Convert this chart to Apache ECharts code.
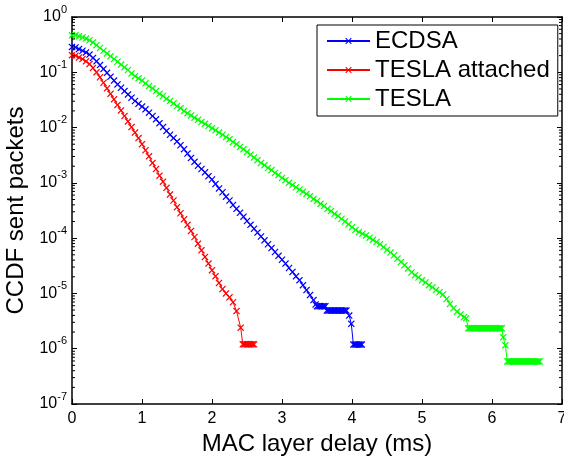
<!DOCTYPE html>
<html>
<head>
<meta charset="utf-8">
<script src="https://cdn.jsdelivr.net/npm/echarts@6/dist/echarts.min.js"></script>
<style>
  html, body { margin: 0; padding: 0; background: #fff; }
  #chart { width: 564px; height: 456px; }
</style>
</head>
<body>
<div id="chart"></div>
<script>
// MAC layer delay (ms) and complementary CDF of sent packets, per scheme.
const ecdsaDelay = [
  0, 0.05, 0.1, 0.15, 0.2, 0.25, 0.3, 0.35, 0.4, 0.45,
  0.5, 0.55, 0.6, 0.65, 0.7, 0.75, 0.8, 0.85, 0.9, 0.95,
  1, 1.05, 1.1, 1.15, 1.2, 1.25, 1.3, 1.35, 1.4, 1.45,
  1.5, 1.55, 1.6, 1.65, 1.7, 1.75, 1.8, 1.85, 1.9, 1.95,
  2, 2.05, 2.1, 2.15, 2.2, 2.25, 2.3, 2.35, 2.4, 2.45,
  2.5, 2.55, 2.6, 2.65, 2.7, 2.75, 2.8, 2.85, 2.9, 2.95,
  3, 3.05, 3.1, 3.15, 3.2, 3.25, 3.3, 3.35, 3.4, 3.45,
  3.48, 3.5, 3.52, 3.54, 3.56, 3.58, 3.6, 3.62,
  3.64, 3.66, 3.68, 3.7, 3.72, 3.74, 3.76, 3.78, 3.8, 3.82, 3.84, 3.86, 3.88, 3.9, 3.92,
  3.96, 3.99,
  4.02, 4.04, 4.06, 4.08, 4.1, 4.12, 4.14
];
const ecdsaCcdf = [
  2.88e-1, 2.82e-1, 2.63e-1, 2.45e-1, 2.29e-1, 2.09e-1, 1.82e-1, 1.58e-1, 1.35e-1, 1.15e-1,
  9.77e-2, 8.32e-2, 7.08e-2, 6.03e-2, 5.25e-2, 4.57e-2, 3.98e-2, 3.47e-2, 3.02e-2, 2.69e-2,
  2.40e-2, 2.14e-2, 1.86e-2, 1.62e-2, 1.41e-2, 1.20e-2, 1.02e-2, 8.71e-3, 7.41e-3, 6.46e-3,
  5.62e-3, 4.79e-3, 4.07e-3, 3.39e-3, 2.82e-3, 2.40e-3, 2.04e-3, 1.78e-3, 1.55e-3, 1.32e-3,
  1.15e-3, 9.55e-4, 7.94e-4, 6.76e-4, 5.62e-4, 4.79e-4, 3.98e-4, 3.39e-4, 2.88e-4, 2.45e-4,
  2.04e-4, 1.74e-4, 1.48e-4, 1.26e-4, 1.07e-4, 9.12e-5, 7.76e-5, 6.61e-5, 5.62e-5, 4.79e-5,
  4.07e-5, 3.47e-5, 2.88e-5, 2.45e-5, 2.04e-5, 1.74e-5, 1.41e-5, 1.15e-5, 9.33e-6, 7.59e-6,
  6.31e-6, 5.89e-6, 5.89e-6, 5.89e-6, 5.89e-6, 5.89e-6, 5.89e-6, 5.89e-6,
  4.90e-6, 4.90e-6, 4.90e-6, 4.90e-6, 4.90e-6, 4.90e-6, 4.90e-6, 4.90e-6, 4.90e-6, 4.90e-6, 4.90e-6, 4.90e-6, 4.90e-6, 4.90e-6, 4.90e-6,
  3.98e-6, 2.82e-6,
  1.19e-6, 1.19e-6, 1.19e-6, 1.19e-6, 1.19e-6, 1.19e-6, 1.19e-6
];

const attachedDelay = [
  0, 0.05, 0.1, 0.15, 0.2, 0.25, 0.3, 0.35, 0.4, 0.45,
  0.5, 0.55, 0.6, 0.65, 0.7, 0.75, 0.8, 0.85, 0.9, 0.95,
  1, 1.05, 1.1, 1.15, 1.2, 1.25, 1.3, 1.35, 1.4, 1.45,
  1.5, 1.55, 1.6, 1.65, 1.7, 1.75, 1.8, 1.85, 1.9, 1.95,
  2, 2.05, 2.1, 2.15, 2.2, 2.25, 2.3,
  2.35, 2.41,
  2.44, 2.46, 2.48, 2.5, 2.52, 2.54, 2.56, 2.58, 2.6
];
const attachedCcdf = [
  2.04e-1, 2.00e-1, 1.86e-1, 1.74e-1, 1.58e-1, 1.41e-1, 1.20e-1, 1.00e-1, 8.13e-2, 6.46e-2,
  5.13e-2, 4.07e-2, 3.24e-2, 2.57e-2, 2.04e-2, 1.62e-2, 1.29e-2, 1.02e-2, 8.13e-3, 6.46e-3,
  5.01e-3, 3.89e-3, 3.02e-3, 2.29e-3, 1.78e-3, 1.35e-3, 1.05e-3, 8.13e-4, 6.17e-4, 4.79e-4,
  3.63e-4, 2.82e-4, 2.19e-4, 1.74e-4, 1.35e-4, 1.05e-4, 7.94e-5, 6.03e-5, 4.57e-5, 3.47e-5,
  2.63e-5, 2.04e-5, 1.55e-5, 1.20e-5, 1.00e-5, 8.51e-6, 6.92e-6,
  4.79e-6, 2.40e-6,
  1.20e-6, 1.20e-6, 1.20e-6, 1.20e-6, 1.20e-6, 1.20e-6, 1.20e-6, 1.20e-6, 1.20e-6
];

const teslaDelay = [
  0, 0.05, 0.1, 0.15, 0.2, 0.25, 0.3, 0.35, 0.4, 0.45,
  0.5, 0.55, 0.6, 0.65, 0.7, 0.75, 0.8, 0.85, 0.9, 0.95,
  1, 1.05, 1.1, 1.15, 1.2, 1.25, 1.3, 1.35, 1.4, 1.45,
  1.5, 1.55, 1.6, 1.65, 1.7, 1.75, 1.8, 1.85, 1.9, 1.95,
  2, 2.05, 2.1, 2.15, 2.2, 2.25, 2.3, 2.35, 2.4, 2.45,
  2.5, 2.55, 2.6, 2.65, 2.7, 2.75, 2.8, 2.85, 2.9, 2.95,
  3, 3.05, 3.1, 3.15, 3.2, 3.25, 3.3, 3.35, 3.4, 3.45,
  3.5, 3.55, 3.6, 3.65, 3.7, 3.75, 3.8, 3.85, 3.9, 3.95,
  4, 4.05, 4.1, 4.15, 4.2, 4.25, 4.3, 4.35, 4.4, 4.45,
  4.5, 4.55, 4.6, 4.65, 4.7, 4.75, 4.8, 4.85, 4.9, 4.95,
  5, 5.05, 5.1, 5.15, 5.2, 5.25, 5.3, 5.35, 5.4, 5.45,
  5.5, 5.55, 5.6,
  5.63,
  5.66, 5.68, 5.7, 5.72, 5.74, 5.76, 5.78, 5.8, 5.82, 5.84, 5.86, 5.88, 5.9,
  5.92, 5.94, 5.96, 5.98, 6, 6.02, 6.04, 6.06, 6.08, 6.1, 6.12, 6.14,
  6.16, 6.19,
  6.22, 6.24, 6.26, 6.28, 6.3, 6.32, 6.34, 6.36, 6.38, 6.4, 6.42, 6.44,
  6.46, 6.48, 6.5, 6.52, 6.54, 6.56, 6.58, 6.6, 6.62, 6.64, 6.66, 6.68
];
const teslaCcdf = [
  4.68e-1, 4.68e-1, 4.47e-1, 4.27e-1, 4.07e-1, 3.80e-1, 3.47e-1, 3.09e-1, 2.75e-1, 2.45e-1,
  2.19e-1, 1.95e-1, 1.74e-1, 1.55e-1, 1.38e-1, 1.23e-1, 1.10e-1, 9.55e-2, 8.51e-2, 7.76e-2,
  7.08e-2, 6.31e-2, 5.62e-2, 5.13e-2, 4.57e-2, 4.07e-2, 3.72e-2, 3.31e-2, 3.02e-2, 2.75e-2,
  2.45e-2, 2.24e-2, 2.00e-2, 1.82e-2, 1.66e-2, 1.51e-2, 1.38e-2, 1.26e-2, 1.17e-2, 1.07e-2,
  9.77e-3, 8.91e-3, 8.13e-3, 7.41e-3, 6.76e-3, 6.17e-3, 5.50e-3, 5.01e-3, 4.47e-3, 4.07e-3,
  3.63e-3, 3.24e-3, 2.88e-3, 2.57e-3, 2.29e-3, 2.09e-3, 1.86e-3, 1.70e-3, 1.51e-3, 1.38e-3,
  1.23e-3, 1.12e-3, 1.00e-3, 9.12e-4, 8.32e-4, 7.59e-4, 6.92e-4, 6.31e-4, 5.75e-4, 5.13e-4,
  4.68e-4, 4.17e-4, 3.80e-4, 3.39e-4, 3.09e-4, 2.75e-4, 2.51e-4, 2.24e-4, 2.00e-4, 1.78e-4,
  1.58e-4, 1.41e-4, 1.29e-4, 1.20e-4, 1.12e-4, 1.02e-4, 9.33e-5, 8.51e-5, 7.76e-5, 6.92e-5,
  6.17e-5, 5.50e-5, 4.90e-5, 4.27e-5, 3.72e-5, 3.24e-5, 2.82e-5, 2.40e-5, 2.14e-5, 1.95e-5,
  1.74e-5, 1.58e-5, 1.41e-5, 1.29e-5, 1.15e-5, 1.05e-5, 9.55e-6, 7.94e-6, 6.46e-6, 5.37e-6,
  4.68e-6, 4.17e-6, 3.72e-6,
  3.55e-6,
  2.34e-6, 2.34e-6, 2.34e-6, 2.34e-6, 2.34e-6, 2.34e-6, 2.34e-6, 2.34e-6, 2.34e-6, 2.34e-6, 2.34e-6, 2.34e-6, 2.34e-6,
  2.34e-6, 2.34e-6, 2.34e-6, 2.34e-6, 2.34e-6, 2.34e-6, 2.34e-6, 2.34e-6, 2.34e-6, 2.34e-6, 2.34e-6, 2.34e-6,
  1.62e-6, 1.15e-6,
  5.89e-7, 5.89e-7, 5.89e-7, 5.89e-7, 5.89e-7, 5.89e-7, 5.89e-7, 5.89e-7, 5.89e-7, 5.89e-7, 5.89e-7, 5.89e-7,
  5.89e-7, 5.89e-7, 5.89e-7, 5.89e-7, 5.89e-7, 5.89e-7, 5.89e-7, 5.89e-7, 5.89e-7, 5.89e-7, 5.89e-7, 5.89e-7
];

const seriesNames = ['ECDSA', 'TESLA attached', 'TESLA'];
const seriesColors = ['#0000ff', '#ff0000', '#00ff00'];

// axis ranges
const xMin = 0, xMax = 7;
const yMin = 1e-7, yMax = 1;

// minor log ticks: 2..9 within each decade
const minorDecades = [1e-7, 1e-6, 1e-5, 1e-4, 1e-3, 1e-2, 1e-1];
const minorSteps = [2, 3, 4, 5, 6, 7, 8, 9];
const minorTicks = [];
minorDecades.forEach(d => minorSteps.forEach(m => minorTicks.push(m * d)));

const FONT = '"Liberation Sans", Arial, Helvetica, sans-serif';
const crossMark = 'path://M0,1.2L1.2,0L5,3.8L8.8,0L10,1.2L6.2,5L10,8.8L8.8,10L5,6.2L1.2,10L0,8.8L3.8,5Z';

function pairs(xs, ys) { return xs.map((x, i) => [x, ys[i]]); }

function lineSeries(name, color, xs, ys) {
  return {
    name: name,
    type: 'line',
    xAxisIndex: 0,
    yAxisIndex: 0,
    data: pairs(xs, ys),
    symbol: crossMark,
    symbolSize: 7,
    showSymbol: true,
    showAllSymbol: true,
    lineStyle: { color: color, width: 1 },
    itemStyle: { color: color },
    emphasis: { disabled: true },
    z: 3
  };
}

function expLabel(v) {
  const e = Math.round(Math.log10(v));
  return '{b|10}{e|' + (e < 0 ? '-' + (-e) : e) + '}';
}

const chart = echarts.init(document.getElementById('chart'), null, { renderer: 'canvas' });

chart.setOption({
  animation: false,
  backgroundColor: '#ffffff',
  textStyle: { fontFamily: FONT },
  grid: { left: 72, right: 2, top: 17, bottom: 52, containLabel: false, outerBoundsMode: 'none' },
  legend: {
    data: seriesNames,
    orient: 'vertical',
    left: 317,
    top: 25,
    padding: [4, 8, 5, 9],
    itemGap: 5,
    itemWidth: 43,
    itemHeight: 8,
    borderColor: '#000',
    borderWidth: 1,
    backgroundColor: '#fff',
    selectedMode: false,
    textStyle: { fontFamily: FONT, fontSize: 24, color: '#000' }
  },
  xAxis: [
    {
      type: 'value', min: xMin, max: xMax, interval: 1,
      name: 'MAC layer delay (ms)', nameLocation: 'middle', nameGap: 22,
      nameTextStyle: { fontFamily: FONT, fontSize: 24, color: '#000' },
      axisLine: { show: true, onZero: false, lineStyle: { color: '#000', width: 1.5 } },
      axisTick: { show: true, inside: true, length: 5, lineStyle: { color: '#000', width: 1 } },
      axisLabel: { fontFamily: FONT, fontSize: 16, color: '#000', margin: 7 },
      splitLine: { show: false }
    },
    {
      type: 'value', min: xMin, max: xMax, interval: 1, position: 'top',
      axisLine: { show: true, onZero: false, lineStyle: { color: '#000', width: 1.5 } },
      axisTick: { show: true, inside: true, length: 5, lineStyle: { color: '#000', width: 1 } },
      axisLabel: { show: false },
      splitLine: { show: false }
    }
  ],
  yAxis: [
    {
      type: 'log', logBase: 10, min: yMin, max: yMax, splitNumber: 7,
      name: 'CCDF sent packets', nameLocation: 'middle', nameGap: 40,
      nameTextStyle: { fontFamily: FONT, fontSize: 24, color: '#000' },
      axisLine: { show: true, onZero: false, lineStyle: { color: '#000', width: 1.5 } },
      axisTick: { show: true, inside: true, length: 5, lineStyle: { color: '#000', width: 1 } },
      axisLabel: {
        margin: 5,
        formatter: expLabel,
        rich: {
          b: { fontFamily: FONT, fontSize: 16, color: '#000', lineHeight: 26 },
          e: { fontFamily: FONT, fontSize: 11, color: '#000', lineHeight: 11, verticalAlign: 'top' }
        }
      },
      splitLine: { show: false }
    },
    {
      type: 'log', logBase: 10, min: yMin, max: yMax, splitNumber: 7, position: 'right',
      axisLine: { show: true, onZero: false, lineStyle: { color: '#000', width: 1.5 } },
      axisTick: { show: true, inside: true, length: 5, lineStyle: { color: '#000', width: 1 } },
      axisLabel: { show: false },
      splitLine: { show: false }
    }
  ],
  series: [
    lineSeries(seriesNames[0], seriesColors[0], ecdsaDelay, ecdsaCcdf),
    lineSeries(seriesNames[1], seriesColors[1], attachedDelay, attachedCcdf),
    lineSeries(seriesNames[2], seriesColors[2], teslaDelay, teslaCcdf),
    {
      // minor ticks on the left and right frame of the log axis
      type: 'custom',
      name: 'minorTicks',
      xAxisIndex: 0,
      yAxisIndex: 0,
      silent: true,
      clip: false,
      data: minorTicks.map(v => [xMin, v]),
      renderItem: function (params, api) {
        const v = api.value(1);
        const l = api.coord([xMin, v]);
        const r = api.coord([xMax, v]);
        const st = { stroke: '#000', lineWidth: 1 };
        return {
          type: 'group',
          children: [
            { type: 'line', shape: { x1: l[0], y1: l[1], x2: l[0] + 3, y2: l[1] }, style: st },
            { type: 'line', shape: { x1: r[0] - 3, y1: r[1], x2: r[0], y2: r[1] }, style: st }
          ]
        };
      },
      z: 4
    }
  ]
});
</script>
</body>
</html>
